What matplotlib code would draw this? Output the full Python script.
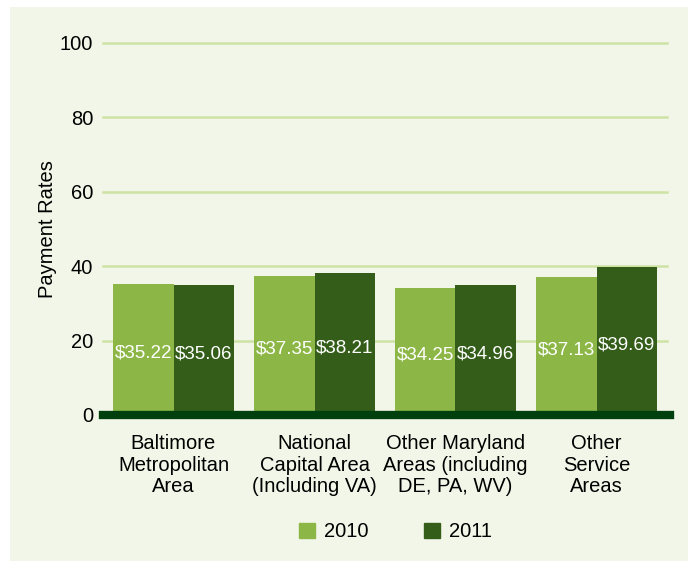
import numpy as np
import matplotlib
matplotlib.use("Agg")
import matplotlib.pyplot as plt
from matplotlib.patches import Patch

plt.rcParams['font.family'] = ['Liberation Sans', 'DejaVu Sans']

categorias = ["Baltimore\nMetropolitan\nArea",
              "National\nCapital Area\n(Including VA)",
              "Other Maryland\nAreas (including\nDE, PA, WV)",
              "Other\nService\nAreas"]
anos = ["2010", "2011"]
valores_2010 = [35.22, 37.35, 34.25, 37.13]
valores_2011 = [35.06, 38.21, 34.96, 39.69]
yticks = [0, 20, 40, 60, 80, 100]

cor_2010 = "#8cb746"
cor_2011 = "#335d18"
cor_fundo = "#f2f6e8"
cor_grade = "#cde2a5"
cor_base = "#00400e"

fig = plt.figure(figsize=(6.88, 5.61), dpi=100)
fig.patch.set_facecolor("white")

# painel de fundo
fundo = fig.add_axes([10 / 688, 0, 1 - 10 / 688, (561 - 7) / 561], zorder=-1)
fundo.set_facecolor(cor_fundo)
fundo.set_xticks([])
fundo.set_yticks([])
for s in fundo.spines.values():
    s.set_visible(False)

ax = fig.add_axes([103 / 688, 146 / 561, 564 / 688, 372 / 561])
ax.set_facecolor("none")

x = np.arange(len(categorias))
w = 0.43
b1 = ax.bar(x - w / 2, valores_2010, w, color=cor_2010, zorder=3)
b2 = ax.bar(x + w / 2, valores_2011, w, color=cor_2011, zorder=3)

for barras, vals in [(b1, valores_2010), (b2, valores_2011)]:
    for r, v in zip(barras, vals):
        ax.text(r.get_x() + r.get_width() / 2, v / 2 - 1, f"${v:.2f}",
                ha="center", va="center", color="white", fontsize=13.5, zorder=4)

ax.set_xlim(-0.5, 3.5)
ax.set_ylim(0, 100)
ax.set_yticks(yticks)
for t in yticks[1:]:
    ax.axhline(t, color=cor_grade, lw=1.8, zorder=1, clip_on=False)
ax.axhline(0, xmin=0, xmax=1.005, color=cor_base, lw=6, zorder=5, clip_on=False)

ax.set_xticks(x)
ax.set_xticklabels(categorias, fontsize=14.5, linespacing=1.15)
ax.tick_params(axis="x", length=0, pad=14)
ax.tick_params(axis="y", length=0, pad=7, labelsize=14.5)
for s in ax.spines.values():
    s.set_visible(False)

ax.set_ylabel("Payment Rates", fontsize=14.5, labelpad=2)

handles = [Patch(color=cor_2010, label=anos[0]), Patch(color=cor_2011, label=anos[1])]
fig.legend(handles=handles, loc="center", bbox_to_anchor=(0.575, 0.052), ncol=2,
           frameon=False, fontsize=14.5, handlelength=0.8, handleheight=0.8,
           handletextpad=0.45, columnspacing=2.75)

fig.savefig("out.png", dpi=100, facecolor=fig.get_facecolor())
